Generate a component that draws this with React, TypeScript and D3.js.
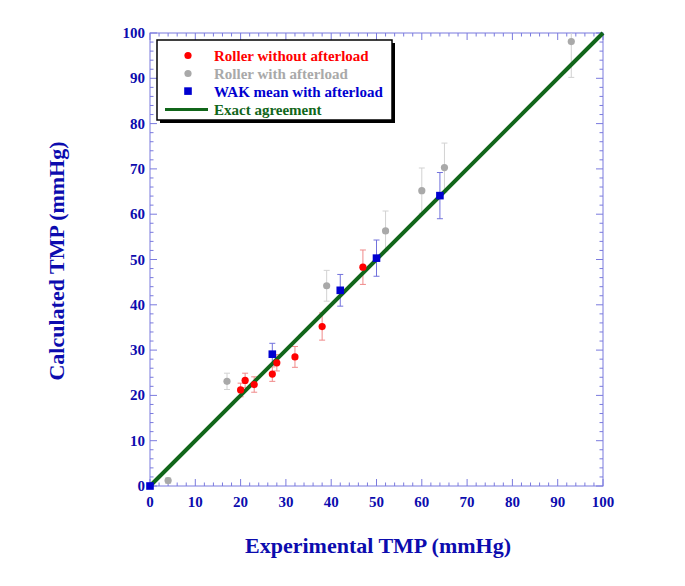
import React from "react";
import * as d3 from "d3";

const rollerNoX = [20, 21, 23, 27, 28, 32, 38, 47];
const rollerNoY = [21.2, 23.3, 22.4, 24.7, 27.2, 28.5, 35.2, 48.3];
const rollerNoErr = [1.5, 1.6, 1.7, 1.6, 1.8, 2.3, 3.0, 3.8];

const rollerAfX = [4, 17, 39, 52, 60, 65, 93];
const rollerAfY = [1.2, 23.1, 44.2, 56.3, 65.2, 70.3, 98.1];
const rollerAfErr = [0.6, 1.8, 3.4, 4.4, 5.0, 5.4, 7.9];

const wakX = [0, 27, 42, 50, 64];
const wakY = [0, 29.1, 43.2, 50.3, 64.1];
const wakErr = [0, 2.4, 3.5, 4.0, 5.1];

const xTicks = [0, 10, 20, 30, 40, 50, 60, 70, 80, 90, 100];
const yTicks = [0, 10, 20, 30, 40, 50, 60, 70, 80, 90, 100];
const legendLabels = [
  "Roller without afterload",
  "Roller with afterload",
  "WAK mean with afterload",
  "Exact agreement",
];

const W = 685;
const H = 586;
const L = 150, R = 603, T = 33, B = 486;
const BLUE = "#0c0cae";
const AXIS = "#7a7ade";
const RED = "#ff0000";
const GRAY = "#a9a9a9";
const SQ = "#0000d0";
const GREEN = "#11661a";
const FONT = "'Liberation Serif', 'Times New Roman', serif";

export default function App() {
  const x = d3.scaleLinear().domain([0, 100]).range([L, R]);
  const y = d3.scaleLinear().domain([0, 100]).range([B, T]);
  const minor = d3.range(0, 101, 2);

  const errBars = (xs: number[], ys: number[], es: number[], color: string, key: string) =>
    xs.map((xv, i) => {
      if (es[i] <= 0) return null;
      const px = x(xv);
      const y1 = Math.max(T, y(ys[i] + es[i]));
      const y2 = Math.min(B, y(ys[i] - es[i]));
      const topCap = ys[i] + es[i] <= 100;
      return (
        <g key={key + i} stroke={color} strokeWidth={1}>
          <line x1={px} x2={px} y1={y1} y2={y2} />
          {topCap && <line x1={px - 3} x2={px + 3} y1={y1} y2={y1} />}
          <line x1={px - 3} x2={px + 3} y1={y2} y2={y2} />
        </g>
      );
    });

  const lineGen = d3.line<number>().x((d) => x(d)).y((d) => y(d));

  return (
    <svg width={W} height={H} style={{ position: "absolute", left: 0, top: 0 }}>
      <rect width={W} height={H} fill="#fff" />
      {/* axes frame */}
      <g stroke={AXIS} strokeWidth={1} fill="none">
        <rect x={L} y={T} width={R - L} height={B - T} />
        {minor.map((v) => {
          const major = v % 10 === 0;
          const len = major ? 7 : 3.5;
          return (
            <g key={"t" + v}>
              <line x1={x(v)} x2={x(v)} y1={B} y2={B - len} />
              <line x1={x(v)} x2={x(v)} y1={T} y2={T + len} />
              <line x1={L} x2={L + len} y1={y(v)} y2={y(v)} />
              <line x1={R} x2={R - len} y1={y(v)} y2={y(v)} />
            </g>
          );
        })}
      </g>
      {/* tick labels */}
      <g fill={BLUE} fontFamily={FONT} fontWeight="bold" fontSize={15}>
        {xTicks.map((v) => (
          <text key={"xl" + v} x={x(v)} y={B + 21} textAnchor="middle">
            {v}
          </text>
        ))}
        {yTicks.map((v) => (
          <text key={"yl" + v} x={L - 5} y={y(v) + 5} textAnchor="end">
            {v}
          </text>
        ))}
      </g>
      {/* axis titles */}
      <text
        x={378}
        y={553}
        textAnchor="middle"
        fill={BLUE}
        fontFamily={FONT}
        fontWeight="bold"
        fontSize={22}
      >
        Experimental TMP (mmHg)
      </text>
      <text
        transform={`translate(64,261) rotate(-90)`}
        textAnchor="middle"
        fill={BLUE}
        fontFamily={FONT}
        fontWeight="bold"
        fontSize={22}
      >
        Calculated TMP (mmHg)
      </text>
      {/* error bars */}
      {errBars(rollerAfX, rollerAfY, rollerAfErr, "#d2d2d2", "ea")}
      {errBars(rollerNoX, rollerNoY, rollerNoErr, "#f08a8a", "en")}
      {errBars(wakX, wakY, wakErr, "#7272dc", "ew")}
      {/* exact agreement line */}
      <path d={lineGen([0, 100]) || ""} stroke={GREEN} strokeWidth={4} fill="none" />
      {/* points */}
      {rollerAfX.map((v, i) => (
        <circle key={"pa" + i} cx={x(v)} cy={y(rollerAfY[i])} r={3.6} fill={GRAY} />
      ))}
      {rollerNoX.map((v, i) => (
        <circle key={"pn" + i} cx={x(v)} cy={y(rollerNoY[i])} r={3.6} fill={RED} />
      ))}
      {wakX.map((v, i) => (
        <rect key={"pw" + i} x={x(v) - 3.8} y={y(wakY[i]) - 3.8} width={7.6} height={7.6} fill={SQ} />
      ))}
      {/* legend */}
      <g>
        <rect x={160} y={43} width={235} height={80} fill="#000" />
        <rect x={157} y={40} width={235} height={80} fill="#fff" stroke="#000" strokeWidth={1.5} />
        <circle cx={188} cy={55.5} r={3.6} fill={RED} />
        <circle cx={188} cy={73.5} r={3.6} fill={GRAY} />
        <rect x={184.2} y={87.3} width={7.6} height={7.6} fill={SQ} />
        <line x1={165} x2={208} y1={109.5} y2={109.5} stroke={GREEN} strokeWidth={3} />
        <g fontFamily={FONT} fontWeight="bold" fontSize={15}>
          {legendLabels.map((t, i) => (
            <text
              key={"lg" + i}
              x={214}
              y={60.5 + i * 18}
              fill={[RED, GRAY, SQ, GREEN][i]}
            >
              {t}
            </text>
          ))}
        </g>
      </g>
    </svg>
  );
}
